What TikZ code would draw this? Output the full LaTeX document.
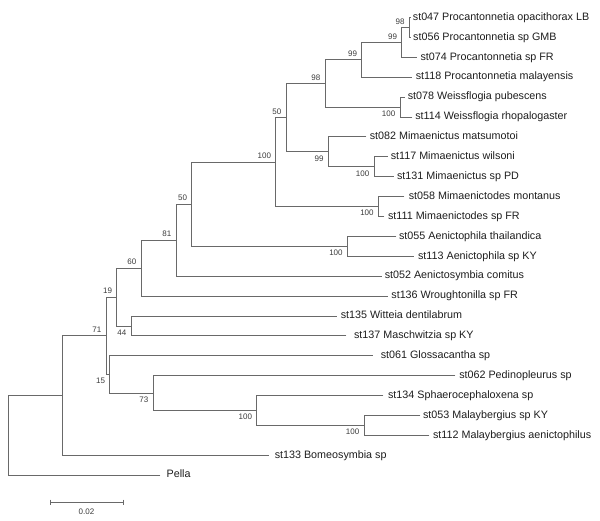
\documentclass[tikz,border=0pt]{standalone}
\usepackage{fontspec}
\setmainfont{Liberation Sans}
\definecolor{linegray}{RGB}{105,105,105}
\definecolor{textcol}{RGB}{30,30,30}
\definecolor{bscol}{RGB}{60,60,60}
\begin{document}
\begin{tikzpicture}[x=1pt,y=-1pt,
  br/.style={draw=linegray,line width=0.9pt,line cap=rect},
  leaf/.style={anchor=west,inner ysep=0pt,text height=7.7pt,text depth=2.3pt,font=\fontsize{10.75}{12}\selectfont,text=textcol},
  bs/.style={inner sep=0pt,font=\fontsize{8}{9}\selectfont,text=bscol},
  bsup/.style={bs,anchor=south east},
  bslo/.style={bs,anchor=north east}]
\fill[white] (0,0) rectangle (600,520);
\useasboundingbox (0,0) rectangle (600,520);

% leaves
\node[leaf,inner xsep=2.2pt] (t047) at (410.5,17.5) {st047 Procantonnetia opacithorax LB};
\node[leaf,inner xsep=2.5pt] (t056) at (410.5,37.4) {st056 Procantonnetia sp GMB};
\node[leaf,inner xsep=3.6pt] (t074) at (416.7,57.3) {st074 Procantonnetia sp FR};
\node[leaf,inner xsep=3.9pt] (t118) at (411.7,77.2) {st118 Procantonnetia malayensis};
\node[leaf,inner xsep=3.1pt] (t078) at (404.5,97.1) {st078 Weissflogia pubescens};
\node[leaf,inner xsep=3.1pt] (t114) at (412,117.0) {st114 Weissflogia rhopalogaster};
\node[leaf,inner xsep=3.6pt] (t082) at (366,136.9) {st082 Mimaenictus matsumotoi};
\node[leaf,inner xsep=3.1pt] (t117) at (387.5,156.8) {st117 Mimaenictus wilsoni};
\node[leaf,inner xsep=3.6pt] (t131) at (393.3,176.7) {st131 Mimaenictus sp PD};
\node[leaf,inner xsep=4.6pt] (t058) at (404,196.6) {st058 Mimaenictodes montanus};
\node[leaf,inner xsep=3.9pt] (t111) at (384,216.5) {st111 Mimaenictodes sp FR};
\node[leaf,inner xsep=2.9pt] (t055) at (396,236.4) {st055 Aenictophila thailandica};
\node[leaf,inner xsep=4.4pt] (t113) at (413.5,256.3) {st113 Aenictophila sp KY};
\node[leaf,inner xsep=2.9pt] (t052) at (381.7,276.2) {st052 Aenictosymbia comitus};
\node[leaf,inner xsep=3.9pt] (t136) at (387.3,296.1) {st136 Wroughtonilla sp FR};
\node[leaf,inner xsep=3.9pt] (t135) at (336.7,316.0) {st135 Witteia dentilabrum};
\node[leaf,inner xsep=7.9pt] (t137) at (346,335.9) {st137 Maschwitzia sp KY};
\node[leaf,inner xsep=7.9pt] (t061) at (372.7,355.8) {st061 Glossacantha sp};
\node[leaf,inner xsep=4.1pt] (t062) at (455,375.7) {st062 Pedinopleurus sp};
\node[leaf,inner xsep=4.9pt] (t134) at (383,395.6) {st134 Sphaerocephaloxena sp};
\node[leaf,inner xsep=2.9pt] (t053) at (420,415.5) {st053 Malaybergius sp KY};
\node[leaf,inner xsep=3.9pt] (t112) at (429,435.4) {st112 Malaybergius aenictophilus};
\node[leaf,inner xsep=6.3pt] (t133) at (268.3,455.3) {st133 Bomeosymbia sp};
\node[leaf,inner xsep=6.5pt] (pella) at (160,475.2) {Pella};

% internal nodes
\coordinate (A) at (409.3,27.45);
\coordinate (B) at (401.7,42.375);
\coordinate (C) at (361.7,59.79);
\coordinate (D) at (400,107.05);
\coordinate (E) at (325,83.42);
\coordinate (F) at (374,166.75);
\coordinate (G) at (328.3,151.83);
\coordinate (H) at (286,117.62);
\coordinate (I) at (378.3,206.55);
\coordinate (J) at (275.7,162.09);
\coordinate (K) at (347.3,246.35);
\coordinate (L) at (191.7,204.22);
\coordinate (M) at (176,240.21);
\coordinate (N) at (141,268.16);
\coordinate (O) at (131,325.95);
\coordinate (P) at (116.7,297.05);
\coordinate (Q) at (364,425.45);
\coordinate (R) at (256.7,410.53);
\coordinate (S) at (153,393.11);
\coordinate (T) at (109.7,374.46);
\coordinate (U) at (106,335.75);
\coordinate (V) at (62.7,395.53);
\coordinate (W) at (8.3,435.36);

% branches
\draw[br] (A) |- (t047.west) (A) |- (t056.west);
\draw[br] (B) |- (A) (B) |- (t074.west);
\draw[br] (C) |- (B) (C) |- (t118.west);
\draw[br] (D) |- (t078.west) (D) |- (t114.west);
\draw[br] (E) |- (C) (E) |- (D);
\draw[br] (F) |- (t117.west) (F) |- (t131.west);
\draw[br] (G) |- (t082.west) (G) |- (F);
\draw[br] (H) |- (E) (H) |- (G);
\draw[br] (I) |- (t058.west) (I) |- (t111.west);
\draw[br] (J) |- (H) (J) |- (I);
\draw[br] (K) |- (t055.west) (K) |- (t113.west);
\draw[br] (L) |- (J) (L) |- (K);
\draw[br] (M) |- (L) (M) |- (t052.west);
\draw[br] (N) |- (M) (N) |- (t136.west);
\draw[br] (O) |- (t135.west) (O) |- (t137.west);
\draw[br] (P) |- (N) (P) |- (O);
\draw[br] (Q) |- (t053.west) (Q) |- (t112.west);
\draw[br] (R) |- (t134.west) (R) |- (Q);
\draw[br] (S) |- (t062.west) (S) |- (R);
\draw[br] (T) |- (t061.west) (T) |- (S);
\draw[br] (U) |- (P) (U) |- (T);
\draw[br] (V) |- (U) (V) |- (t133.west);
\draw[br] (W) |- (V) (W) |- (pella.west);

% bootstrap values
\node[bsup] (bA) at ([xshift=-4.5pt,yshift=3pt]A) {98};
\node[bsup] (bB) at ([xshift=-4.5pt,yshift=3pt]B) {99};
\node[bsup] (bC) at ([xshift=-4.5pt,yshift=3pt]C) {99};
\node[bslo] (bD) at ([xshift=-4.5pt,yshift=-3.5pt]D) {100};
\node[bsup] (bE) at ([xshift=-4.5pt,yshift=3pt]E) {98};
\node[bslo] (bF) at ([xshift=-4.5pt,yshift=-3.5pt]F) {100};
\node[bslo] (bG) at ([xshift=-4.5pt,yshift=-3.5pt]G) {99};
\node[bsup] (bH) at ([xshift=-4.5pt,yshift=3pt]H) {50};
\node[bslo] (bI) at ([xshift=-4.5pt,yshift=-3.5pt]I) {100};
\node[bsup] (bJ) at ([xshift=-4.5pt,yshift=3pt]J) {100};
\node[bslo] (bK) at ([xshift=-4.5pt,yshift=-3.5pt]K) {100};
\node[bsup] (bL) at ([xshift=-4.5pt,yshift=3pt]L) {50};
\node[bsup] (bM) at ([xshift=-4.5pt,yshift=3pt]M) {81};
\node[bsup] (bN) at ([xshift=-4.5pt,yshift=3pt]N) {60};
\node[bslo] (bO) at ([xshift=-4.5pt,yshift=-3.5pt]O) {44};
\node[bsup] (bP) at ([xshift=-4.5pt,yshift=3pt]P) {19};
\node[bslo] (bQ) at ([xshift=-4.5pt,yshift=-3.5pt]Q) {100};
\node[bslo] (bR) at ([xshift=-4.5pt,yshift=-3.5pt]R) {100};
\node[bslo] (bS) at ([xshift=-4.5pt,yshift=-3.5pt]S) {73};
\node[bslo] (bT) at ([xshift=-4.5pt,yshift=-3.5pt]T) {15};
\node[bsup] (bU) at ([xshift=-4.5pt,yshift=3pt]U) {71};

% scale bar
\coordinate (sb1) at (50,502.3);
\coordinate (sb2) at (123.3,502.3);
\draw[br,line cap=butt] (sb1) -- (sb2);
\draw[br,line cap=butt] ([yshift=2.8pt]sb1) -- ([yshift=-2.8pt]sb1);
\draw[br,line cap=butt] ([yshift=2.8pt]sb2) -- ([yshift=-2.8pt]sb2);
\node[bs] (sbl) at (86.5,512) {0.02};
\end{tikzpicture}
\end{document}
